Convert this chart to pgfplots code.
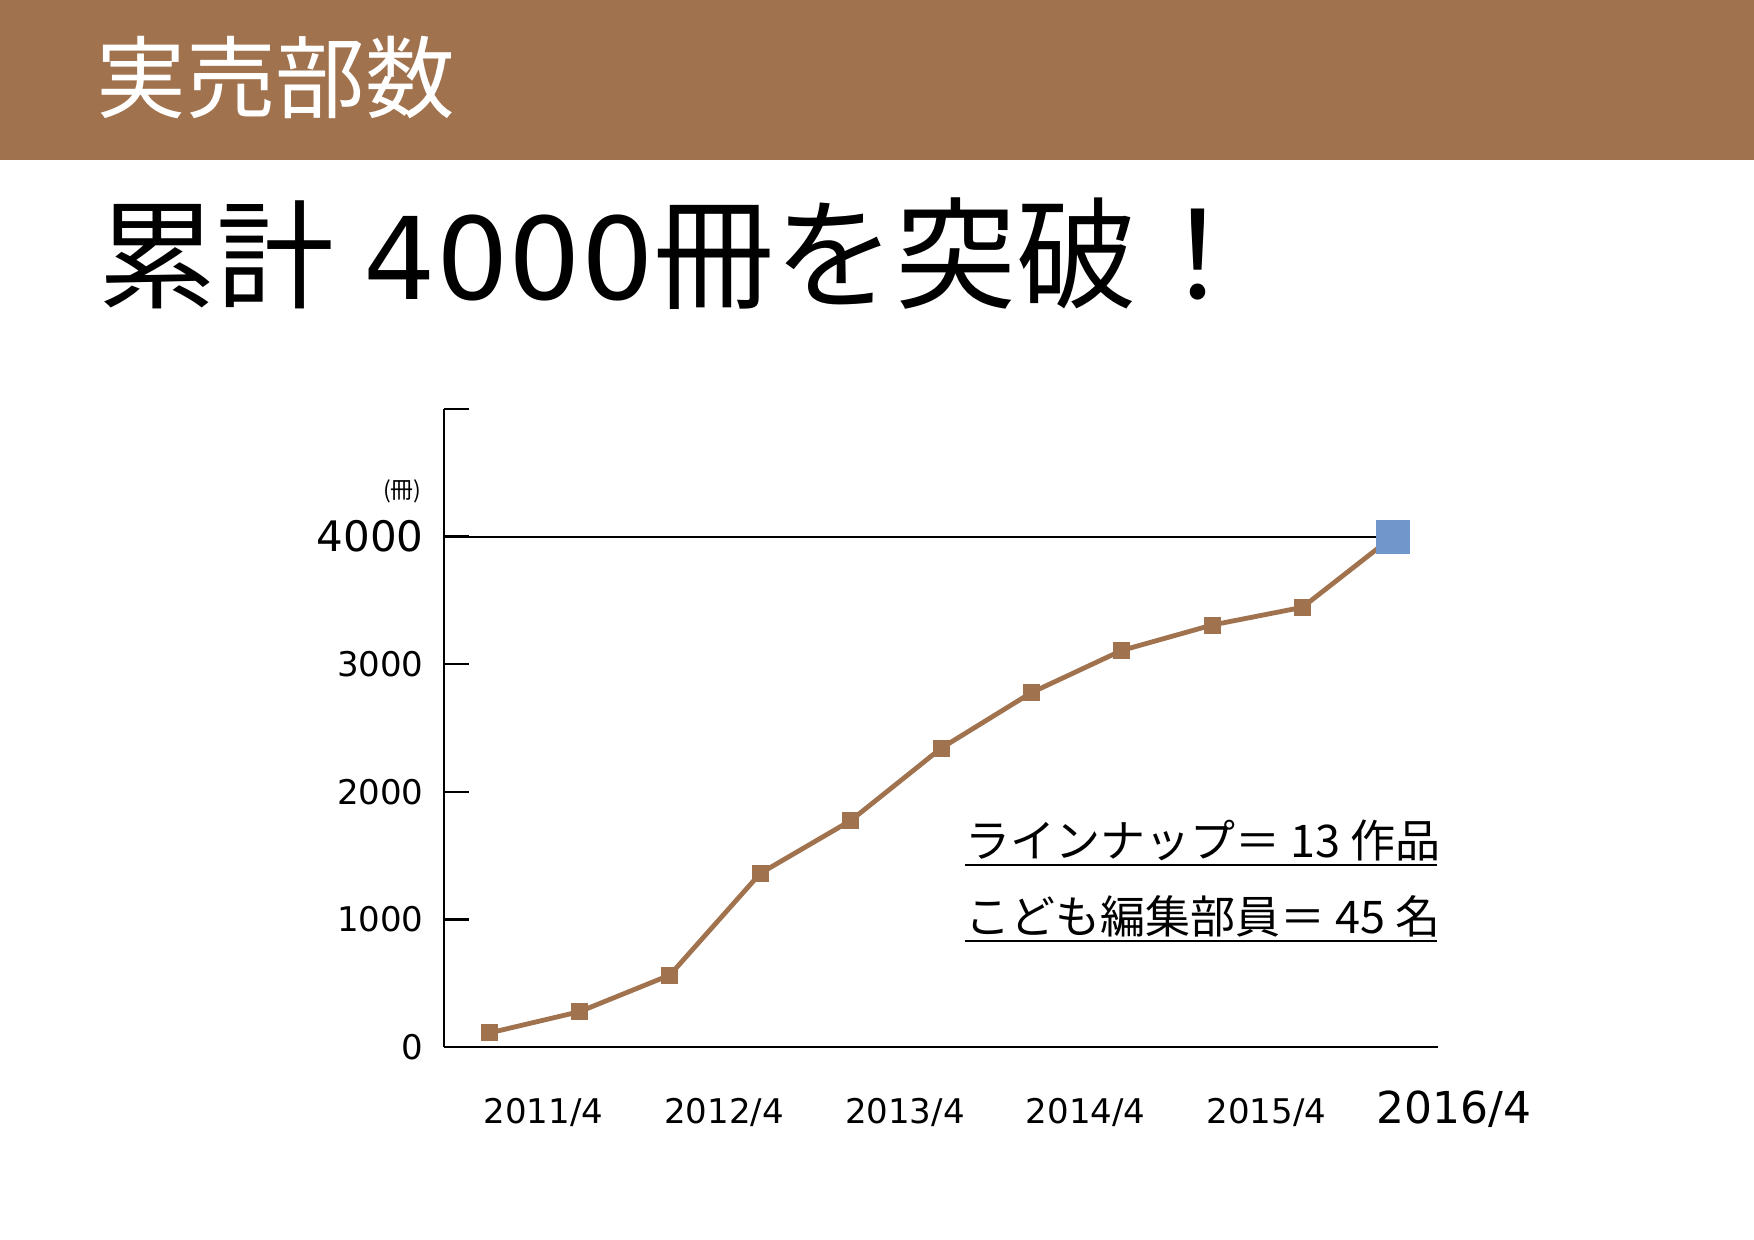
\documentclass[border=0pt]{standalone}
\usepackage{fontspec}
\setmainfont{DejaVu Sans}
\newfontfamily\jp{Noto Sans CJK JP}
\usepackage{pgfplots}
\pgfplotsset{compat=1.18}
\definecolor{barbrown}{HTML}{A0724E}
\definecolor{markblue}{HTML}{7096CB}
\begin{document}
\begin{tikzpicture}
% page: 1px = 0.5pt
\path[use as bounding box, fill=white] (0,0) rectangle (877pt,-620pt);
\fill[barbrown] (0,0) rectangle (877pt,-80pt);
\node[anchor=base west, inner sep=0, text=white, font=\jp\fontsize{44.8pt}{44.8pt}\selectfont] at (48pt,-56pt) {実売部数};
\node[anchor=base west, inner sep=0, font=\fontsize{57pt}{57pt}\selectfont] at (49pt,-150pt)
  {{\jp\fontsize{59pt}{59pt}\selectfont 累計}\kern-3.4pt\ 4000{\jp\fontsize{60.5pt}{60.5pt}\selectfont 冊を突破！}};

\begin{axis}[
  at={(222pt,-523.5pt)}, anchor=south west,
  scale only axis, width=497pt, height=319pt,
  xmin=-0.5, xmax=10.5, ymin=0, ymax=5000,
  axis x line=bottom, axis y line=left,
  axis line style={-, line width=1.2pt, black},
  xtick={0.6,2.6,4.6,6.6,8.6},
  xticklabels={2011/4,2012/4,2013/4,2014/4,2015/4},
  x tick style={draw=none},
  xticklabel style={anchor=base, inner sep=0pt, yshift=-38pt, font=\fontsize{17pt}{17pt}\selectfont},
  ytick={0,1000,2000,3000,4000,5000},
  yticklabels={0,1000,2000,3000,{\fontsize{21pt}{21pt}\selectfont 4000},{}},
  y tick style={line width=1.2pt, black},
  tick align=inside, major tick length=12.5pt,
  yticklabel style={anchor=east, inner sep=0pt, xshift=-10pt, font=\fontsize{17pt}{17pt}\selectfont},
  clip=false,
]
\addplot[black, line width=1pt] coordinates {(-0.5,4000) (10,4000)};
\addplot[barbrown, line width=2.4pt, line join=round, mark=square*, mark size=4pt,
  mark options={solid, fill=barbrown, draw=barbrown, line width=0pt}] coordinates {
  (0,110) (1,277) (2,564) (3,1361) (4,1774) (5,2341) (6,2777) (7,3108) (8,3307) (9,3446) (10,4000)
};
\addplot[only marks, mark=square*, mark size=8.25pt,
  mark options={fill=markblue, draw=markblue, line width=0pt}] coordinates {(10,4000)};
\node[anchor=base, inner sep=0, yshift=-38pt, font=\fontsize{22pt}{22pt}\selectfont] at (axis cs:10.674,0) {2016/4};
\end{axis}

\node[anchor=base east, inner sep=0, font=\jp\fontsize{11.5pt}{11.5pt}\selectfont] at (211pt,-249pt) {(冊)};
\node[anchor=base west, inner sep=0, font=\jp\fontsize{22.5pt}{22.5pt}\selectfont] at (482.5pt,-428.5pt) {ラインナップ＝ 13 作品};
\draw[line width=1pt] (482.5pt,-432.35pt) -- (718.5pt,-432.35pt);
\node[anchor=base west, inner sep=0, font=\jp\fontsize{22.5pt}{22.5pt}\selectfont] at (482.5pt,-466.5pt) {こども編集部員＝ 45 名};
\draw[line width=1pt] (482.5pt,-470.5pt) -- (718.5pt,-470.5pt);
\end{tikzpicture}
\end{document}
